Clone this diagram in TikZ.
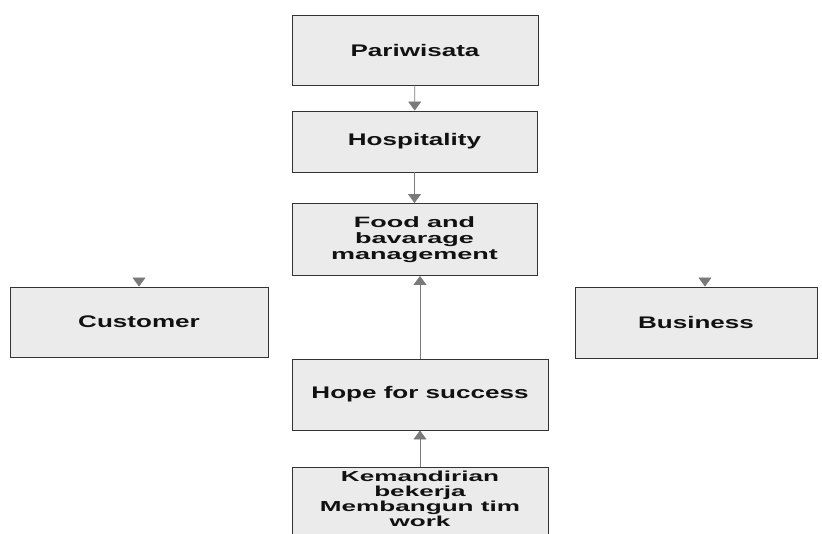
\documentclass[tikz,border=0pt]{standalone}
\usepackage{xcolor}
\usepackage{fontspec}
\usepackage{tikz}
\usetikzlibrary{arrows.meta}
\newfontfamily\boxfont{Liberation Sans}[FakeStretch=1.55]
\newfontfamily\narrowfont{Liberation Sans}[FakeStretch=1.8]
\definecolor{ink}{HTML}{111111}
\definecolor{edge}{HTML}{333333}
\definecolor{paper}{HTML}{EBEBEB}
\definecolor{wire}{HTML}{7A7A7A}

\begin{document}
\begin{tikzpicture}[x=1pt,y=-1pt,
    every node/.style={font=\boxfont\bfseries\fontsize{16.8}{18}\selectfont,text=ink},
    box/.style={draw=edge,line width=.9pt,fill=paper,align=center,inner sep=0pt},
    feed/.style={wire,line width=.8pt,-{Triangle[width=13pt,length=9pt]}}]
        \useasboundingbox (0,0) rectangle (822,533);
        \clip (0,0) rectangle (822,533);
        \node[box,minimum width=246pt,minimum height=70pt] (pariwisata) at (415,50) {Pariwisata};
        \node[box,minimum width=245pt,minimum height=61pt] (hospitality) at (414.5,141.5) {Hospitality};
        \node[box,minimum width=245pt,minimum height=72pt,font=\narrowfont\bfseries\fontsize{15}{16}\selectfont] (food) at (414.5,239.5) {Food and\\bavarage\\management};
        \node[box,minimum width=258pt,minimum height=70pt] (customer) at (139,322) {Customer};
        \node[box,minimum width=242pt,minimum height=71pt] (business) at (696,322.5) {Business};
        \node[box,minimum width=256pt,minimum height=71pt] (hope) at (420,394.5) {Hope for success};
        \node[box,anchor=north,minimum width=256pt,inner ysep=4pt,font=\narrowfont\bfseries\fontsize{14.5}{15}\selectfont] (kemandirian) at (420,466.5) {Kemandirian\\bekerja\\Membangun tim\\work\\[8pt]};
        \coordinate (tocustomer) at (139,278);
        \coordinate (tobusiness) at (705,278);
        \draw[feed] (pariwisata) -- (hospitality);
        \draw[feed] (hospitality) -- (food);
        \draw[feed] (hope.north) -- (hope.north |- food.south);
        \draw[feed] (kemandirian.north) -- (hope.south);
        \draw[feed] (tocustomer) -- (tocustomer |- customer.north);
        \draw[feed] (tobusiness) -- (tobusiness |- business.north);
      \end{tikzpicture}
\end{document}
